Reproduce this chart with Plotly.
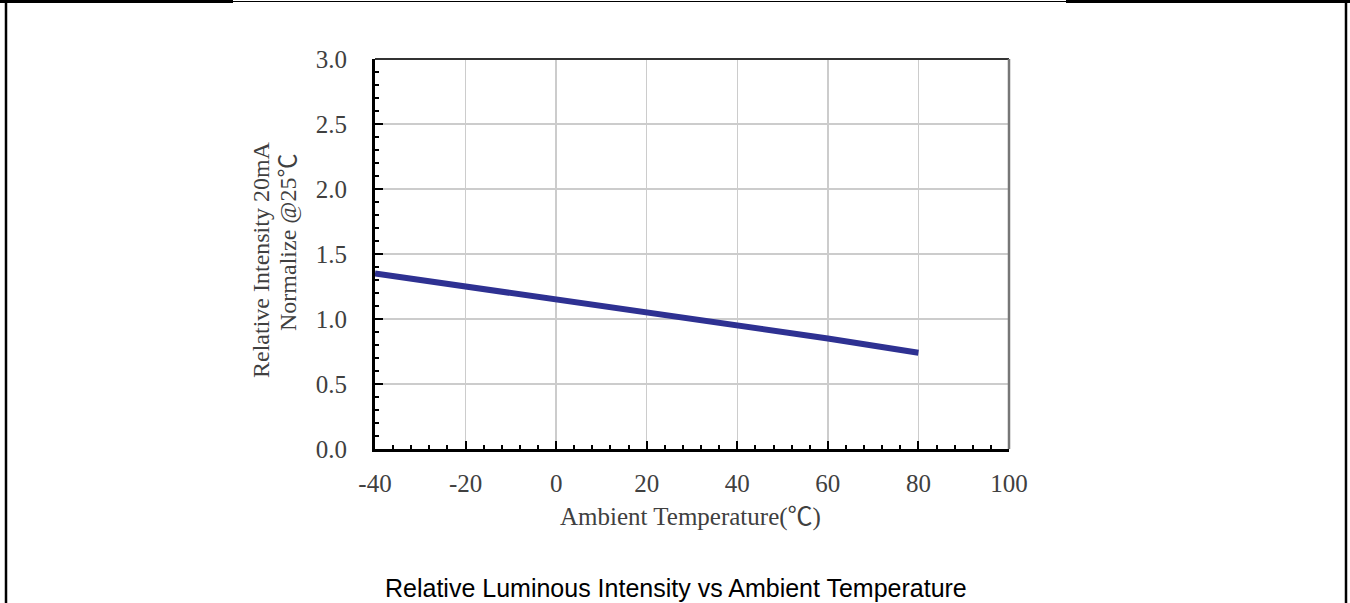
import plotly.graph_objects as go

# Data
temperature = [-40, -20, 0, 20, 40, 60, 80]
relative_intensity = [1.35, 1.25, 1.155, 1.055, 0.955, 0.85, 0.74]

x_ticks = [-40, -20, 0, 20, 40, 60, 80, 100]
y_ticks = [0.0, 0.5, 1.0, 1.5, 2.0, 2.5, 3.0]
y_tick_text = ["0.0", "0.5", "1.0", "1.5", "2.0", "2.5", "3.0"]

x_title = 'Ambient Temperature(<span style="font-family:Noto Sans CJK TC;font-size:25px">℃</span>)'
y_title_1 = "Relative Intensity 20mA"
y_title_2 = 'Normalize @25<span style="font-family:Noto Sans CJK TC">℃</span>'
chart_title = "Relative Luminous Intensity vs Ambient Temperature"

W, H = 1350, 603
L, R, T, B = 375, 341, 59, 154
PW, PH = W - L - R, H - T - B


def px(xp):
    return (xp - L) / PW


def py(yp):
    return (H - B - yp) / PH


serif = "Liberation Serif, Times New Roman, Noto Sans CJK TC, serif"
label_color = "#404040"

fig = go.Figure()
fig.add_trace(go.Scatter(
    x=temperature, y=relative_intensity, mode="lines",
    line=dict(color="#2e3192", width=6), showlegend=False, hoverinfo="skip",
))

axis_common = dict(
    showgrid=True, gridcolor="#cccccc", gridwidth=1.5,
    showline=True, linecolor="#000000", linewidth=3,
    ticks="inside", ticklen=8, tickwidth=2, tickcolor="#000000",
    tickfont=dict(family=serif, size=25, color=label_color),
    zeroline=False,
)

fig.update_xaxes(
    range=[-40, 100], tickvals=x_ticks, ticktext=[str(v) for v in x_ticks],
    minor=dict(ticks="inside", ticklen=4, tickwidth=2, tickcolor="#000000", dtick=4, tick0=0, showgrid=False),
    ticklabelstandoff=10,
    **axis_common,
)
fig.update_yaxes(
    range=[0, 3], tickvals=y_ticks, ticktext=y_tick_text,
    minor=dict(ticks="inside", ticklen=4, tickwidth=2, tickcolor="#000000", dtick=0.1, tick0=0, showgrid=False),
    ticklabelstandoff=20,
    **axis_common,
)

shapes = [
    # plot frame (top and right edges)
    dict(type="line", xref="paper", yref="paper", x0=0, x1=1, y0=1, y1=1, line=dict(color="#333333", width=2)),
    dict(type="line", xref="paper", yref="paper", x0=1, x1=1, y0=0, y1=1, line=dict(color="#777777", width=2.5)),
    # page frame
    dict(type="line", xref="paper", yref="paper", x0=px(0), x1=px(233), y0=py(1.5), y1=py(1.5), line=dict(color="#000000", width=3)),
    dict(type="line", xref="paper", yref="paper", x0=px(233), x1=px(1066), y0=py(1.5), y1=py(1.5), line=dict(color="#000000", width=1)),
    dict(type="line", xref="paper", yref="paper", x0=px(1066), x1=px(1350), y0=py(1.5), y1=py(1.5), line=dict(color="#000000", width=3)),
    dict(type="line", xref="paper", yref="paper", x0=px(6), x1=px(6), y0=py(0), y1=py(603), line=dict(color="#000000", width=2.5)),
    dict(type="line", xref="paper", yref="paper", x0=px(1346), x1=px(1346), y0=py(0), y1=py(603), line=dict(color="#000000", width=2.5)),
]

annotations = [
    dict(text=x_title, xref="paper", yref="paper",
         x=px(690), y=py(514), xanchor="center", yanchor="middle", showarrow=False,
         font=dict(family=serif, size=25, color=label_color)),
    dict(text=y_title_1, xref="paper", yref="paper", textangle=-90,
         x=px(261), y=py(260), xanchor="center", yanchor="middle", showarrow=False,
         font=dict(family=serif, size=24, color=label_color)),
    dict(text=y_title_2, xref="paper", yref="paper", textangle=-90,
         x=px(285), y=py(243), xanchor="center", yanchor="middle", showarrow=False,
         font=dict(family=serif, size=24, color=label_color)),
    dict(text=chart_title, xref="paper", yref="paper",
         x=px(676), y=py(588), xanchor="center", yanchor="middle", showarrow=False,
         font=dict(family="Liberation Sans, Arial, sans-serif", size=25, color="#000000")),
]

fig.update_layout(
    width=W, height=H,
    margin=dict(l=L, r=R, t=T, b=B, autoexpand=False),
    paper_bgcolor="#ffffff", plot_bgcolor="#ffffff",
    shapes=shapes, annotations=annotations,
)

fig.write_html(
    "out.html",
    config={"displayModeBar": False, "staticPlot": True},
    post_script="document.body.style.margin='0';document.body.style.overflow='hidden';",
)
